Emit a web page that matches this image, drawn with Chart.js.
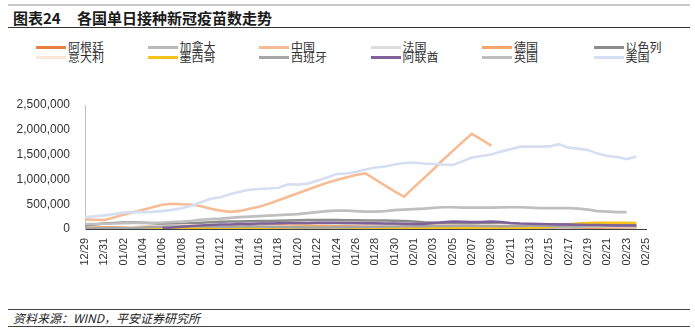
<!DOCTYPE html>
<html>
<head>
<meta charset="utf-8">
<script src="https://cdn.jsdelivr.net/npm/chart.js@4.4.1/dist/chart.umd.min.js"></script>
<style>
  html, body { margin: 0; padding: 0; background: #fff; }
  body { width: 695px; height: 334px; position: relative; overflow: hidden;
         font-family: "Liberation Sans", "Noto Sans CJK SC", sans-serif; color: #222; }
  .rule { position: absolute; left: 8px; width: 682px; }
  #title1, #title2 { position: absolute; top: 9px; font-size: 15px; line-height: 18px; font-weight: bold;
                     font-family: "Noto Sans CJK SC", sans-serif; color: #1a1a1a; }
  #legend { position: absolute; left: 36px; top: 41px; }
  .lg { position: absolute; width: 110px; height: 11px; font-size: 12px; line-height: 11px;
        font-family: "Noto Sans CJK SC", sans-serif; color: #333; white-space: nowrap; }
  .lg i { position: absolute; left: 0; top: 5px; width: 30px; height: 3px; }
  .lg span { position: absolute; left: 32px; top: 0; }
  #wrap { position: absolute; left: 0; top: 72px; width: 695px; height: 210px; }
  #src { position: absolute; left: 13px; top: 310px; font-size: 12px; line-height: 16px; font-style: italic;
         font-family: "Noto Sans CJK SC", sans-serif; color: #222; }
</style>
</head>
<body>
<div class="rule" style="top:4px;height:2px;background:#c8c8c8"></div>
<div class="rule" style="top:27px;height:1px;background:#333"></div>
<div id="title1" style="left:13px">图表24</div>
<div id="title2" style="left:77px">各国单日接种新冠疫苗数走势</div>
<div id="legend"></div>
<div id="wrap"><canvas id="vaxChart" width="695" height="210"></canvas></div>
<div class="rule" style="top:309px;height:1px;background:#444"></div>
<div class="rule" style="top:326px;height:1px;background:#444"></div>
<div id="src">资料来源：WIND，平安证券研究所</div>

<script>
// 日期 12/29 - 02/25
const DATES = [
  '12/29','12/30','12/31','01/01','01/02','01/03','01/04','01/05','01/06','01/07',
  '01/08','01/09','01/10','01/11','01/12','01/13','01/14','01/15','01/16','01/17',
  '01/18','01/19','01/20','01/21','01/22','01/23','01/24','01/25','01/26','01/27',
  '01/28','01/29','01/30','01/31','02/01','02/02','02/03','02/04','02/05','02/06',
  '02/07','02/08','02/09','02/10','02/11','02/12','02/13','02/14','02/15','02/16',
  '02/17','02/18','02/19','02/20','02/21','02/22','02/23','02/24','02/25'
];

const COUNTRIES = ['阿根廷','加拿大','中国','法国','德国','以色列','意大利','墨西哥','西班牙','阿联酋','英国','美国'];

// 单日接种数，单位：千剂
const ARGENTINA = [3,5,6,8,8,10,12,10,8,10, 12,15,15,18,18,20,20,18,15,15, 18,20,22,22,25,25,25,20,18,20,
  22,25,28,30,28,25,22,20,22,25, 28,30,30,28,25,25,28,30,32,35, 35,30,28,28,30,32,35,35,null];
const CANADA = [10,12,15,15,12,15,20,22,25,28, 30,30,32,32,30,28,28,25,25,22, 20,18,18,15,15,12,12,12,15,15,
  18,18,20,20,18,15,15,15,18,20, 22,25,25,28,28,30,30,32,32,35, 35,35,38,38,40,40,40,40,null];
const CHINA = [190,185,180,230,290,340,390,440,490,510, 500,495,460,410,370,345,365,410,450,510,
  580,650,720,790,860,930,990,1040,1090,1120, 1000,880,760,650,840,1020,1200,1390,1570,1750,
  1920,1800,1680,null,null,null,null,null,null,null, null,null,null,null,null,null,null,null,null];
const FRANCE = [1,1,1,2,2,3,5,8,12,18, 25,35,45,55,60,65,70,75,80,85, 85,90,90,90,85,80,75,75,80,80,
  85,85,90,90,85,80,80,75,80,85, 90,95,95,100,100,95,90,85,90,95, 100,100,95,90,85,80,80,75,null];
const GERMANY = [20,30,35,35,30,35,45,50,55,60, 65,60,60,65,70,75,75,70,70,75, 75,70,70,65,60,60,55,55,60,60,
  65,60,70,75,80,85,90,90,95,100, 105,100,95,95,90,85,80,80,75,70, 70,65,60,55,55,50,50,45,null];
const ISRAEL = [70,90,110,120,130,130,125,115,105,100, 105,115,125,135,145,150,150,155,160,160,
  165,170,175,180,180,180,180,175,175,170, 170,170,165,160,150,135,125,115,110,105,
  100,100,105,100,95,95,90,90,95,90, 85,85,80,80,80,75,75,75,null];
const ITALY = [5,8,10,15,20,30,40,50,60,65, 70,75,75,80,80,80,75,70,65,60, 50,45,40,35,30,30,30,35,40,45,
  50,55,55,60,60,65,65,70,70,70, 70,75,75,80,80,80,75,75,70,70, 65,65,60,60,55,55,50,50,null];
const MEXICO = [10,10,12,12,15,15,15,18,18,20, 20,20,22,22,22,25,25,25,25,28, 28,28,30,30,30,30,30,28,28,25,
  25,22,20,20,18,18,15,15,15,15, 15,15,18,20,22,25,28,30,40,60, 85,110,120,125,125,125,125,120,null];
const SPAIN = [10,15,20,20,15,20,30,40,45,50, 50,55,55,50,45,45,50,55,50,45, 40,35,35,30,30,30,35,35,40,40,
  45,50,50,55,55,55,60,60,60,65, 65,60,60,55,60,60,65,65,60,60, 65,65,70,70,65,65,60,60,null];
const UAE = [null,null,null,null,null,null,null,null,20,30, 45,60,70,80,90,90,100,100,110,110,
  115,120,120,120,125,125,125,120,120,115, 115,110,110,105,100,100,120,135,150,145,
  140,140,150,140,120,110,105,100,95,90, 90,85,80,80,75,70,70,70,null];
const UK = [100,100,105,110,115,120,120,125,130,140, 150,165,185,200,210,225,240,250,260,270,
  280,290,300,320,340,360,370,370,360,350, 350,360,380,390,400,410,425,440,440,430,
  430,430,430,435,440,440,430,420,420,420, 420,410,390,360,350,340,340,null,null];
const USA = [240,255,275,300,330,340,340,345,360,385, 420,470,540,610,640,700,750,790,805,815,
  830,900,895,915,975,1040,1110,1120,1150,1200, 1240,1260,1300,1330,1340,1320,1310,1300,1290,1360,
  1440,1470,1500,1560,1610,1660,1660,1660,1665,1710, 1640,1620,1590,1520,1470,1450,1410,1460,null];

const SERIES = [ARGENTINA, CANADA, CHINA, FRANCE, GERMANY, ISRAEL, ITALY, MEXICO, SPAIN, UAE, UK, USA];
const COLORS = ['#e8803f','#b8b8b8','#f5bc96','#dcdcdc','#f4a66a','#8c8c8c',
                '#fbe5d6','#f8c21c','#a6a6a6','#7f6199','#bfbfbf','#d6dff1'];
const Y_TICKS = [0, 500000, 1000000, 1500000, 2000000, 2500000];

// legend: two rows, six columns
const legendEl = document.getElementById('legend');
COUNTRIES.forEach((name, i) => {
  const col = i % 6, row = Math.floor(i / 6);
  const d = document.createElement('div');
  d.className = 'lg';
  d.style.left = (col * 111.5) + 'px';
  d.style.top = (row * 10) + 'px';
  d.innerHTML = `<i style="background:${COLORS[i]}"></i><span>${name}</span>`;
  legendEl.appendChild(d);
});

const datasets = SERIES.map((arr, i) => ({
  label: COUNTRIES[i],
  data: arr.map(v => v == null ? null : v * 1000),
  borderColor: COLORS[i],
  backgroundColor: COLORS[i],
  borderWidth: 2.6,
  pointRadius: 0,
  tension: 0,
  spanGaps: false,
  order: SERIES.length - 1 - i   // later series drawn on top, like Excel
}));

new Chart(document.getElementById('vaxChart'), {
  type: 'line',
  data: { labels: DATES, datasets },
  options: {
    responsive: false,
    animation: false,
    layout: { padding: { top: 33, right: 49, left: 0, bottom: 0 } },
    plugins: { legend: { display: false }, tooltip: { enabled: false } },
    scales: {
      x: {
        type: 'category',
        offset: false,
        grid: { display: false, drawTicks: false },
        border: { display: true, color: '#404040', width: 1 },
        ticks: {
          autoSkip: false, maxRotation: 90, minRotation: 90, padding: 9,
          color: '#333', font: { family: 'Liberation Sans', size: 11 },
          callback: function (v, i) { return i % 2 === 0 ? this.getLabelForValue(v) : ''; }
        },
        afterFit: s => { s.height = 53; }
      },
      y: {
        min: 0, max: 2500000,
        afterBuildTicks: s => { s.ticks = Y_TICKS.map(v => ({ value: v })); },
        grid: { display: false, drawTicks: false },
        border: { display: true, color: '#bfbfbf', width: 1 },
        ticks: {
          padding: 15, color: '#333', font: { family: 'Liberation Sans', size: 12 },
          callback: v => v.toLocaleString('en-US')
        },
        afterFit: s => { s.width = 85; }
      }
    }
  }
});
</script>
</body>
</html>
